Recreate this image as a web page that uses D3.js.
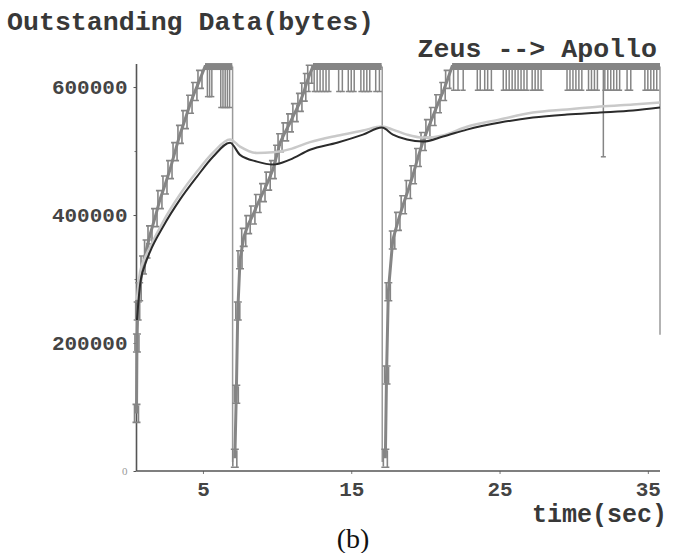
<!DOCTYPE html>
<html>
<head>
<meta charset="utf-8">
<script src="https://cdn.jsdelivr.net/npm/d3@7"></script>
<style>
  html, body { margin: 0; padding: 0; background: #fff; }
  svg { display: block; }
</style>
</head>
<body>
<svg id="chart" width="675" height="553"></svg>
<script>
// ---- data (time in s, outstanding data in bytes) ----
const ramp1T = [0.52, 0.55, 0.6, 0.7, 0.96, 1.2, 1.43, 1.77, 2.1, 2.44, 2.78, 3.12, 3.45, 3.79, 4.13, 4.46, 4.8, 5.14, 6.98];
const ramp1V = [90000, 200000, 250000, 280000, 322000, 347000, 369000, 396000, 424000, 447000, 471000, 499000, 526000, 549000, 573000, 593000, 612000, 632000, 632000];
const ramp2T = [7.15, 7.25, 7.35, 7.5, 7.75, 8.05, 8.37, 8.7, 9.05, 9.4, 9.72, 10.0, 10.2, 10.55, 10.87, 11.2, 11.54, 11.8, 12.0, 12.2, 12.42, 17.05];
const ramp2V = [20000, 120000, 250000, 330000, 365000, 385000, 400000, 418000, 435000, 453000, 471000, 495000, 513000, 530000, 544000, 560000, 576000, 592000, 607000, 620000, 632000, 632000];
const ramp3T = [17.3, 17.38, 17.5, 17.8, 18.15, 18.5, 18.85, 19.17, 19.5, 19.84, 20.17, 20.5, 20.85, 21.2, 21.5, 21.8, 35.82];
const ramp3V = [20000, 150000, 280000, 361000, 390000, 416000, 440000, 463000, 490000, 515000, 535000, 554000, 574000, 593000, 612000, 632000, 632000];
const capV = 632000;
const dropT = [7.0, 17.09, 35.82];
const dropV = [14000, 14000, 213000];
const dipT = [5.3, 5.45, 5.6, 6.2, 6.35, 6.5, 6.65, 6.8,
  12.5, 12.7, 12.9, 13.1, 13.3, 13.5, 14.15, 14.4, 14.8, 15.0, 15.2, 15.65, 15.85, 16.05, 16.25, 16.65, 16.9,
  21.9, 22.2, 22.55, 23.5, 23.7, 24.0, 24.2, 24.45, 25.25, 25.45, 25.65, 25.85, 26.05, 26.25, 26.45, 26.65, 26.85,
  27.2, 27.4, 27.6, 27.8, 29.55, 29.75, 29.95, 30.15, 30.35, 30.55, 31.0, 31.2, 31.4, 31.6, 32.0, 32.1, 32.3, 32.5,
  32.7, 32.9, 33.1, 33.6, 33.85, 34.8, 35.0, 35.2, 35.4, 35.6];
const dipV = [585000, 585000, 585000, 568000, 568000, 568000, 568000, 568000,
  593000, 593000, 593000, 593000, 593000, 593000, 593000, 593000, 593000, 593000, 593000, 593000, 593000, 593000, 593000, 593000, 593000,
  595000, 595000, 595000, 595000, 595000, 595000, 595000, 595000, 595000, 595000, 595000, 595000, 595000, 595000, 595000, 595000, 595000,
  595000, 595000, 595000, 595000, 595000, 595000, 595000, 595000, 595000, 595000, 595000, 595000, 595000, 595000, 491000, 595000, 595000, 595000,
  595000, 595000, 595000, 595000, 595000, 595000, 595000, 595000, 595000, 595000];

const avgT = [0.55, 0.76, 1.09, 1.43, 2.31, 3.45, 4.60, 5.68, 6.83, 7.50, 8.64, 9.72, 10.87, 12.22, 14.04, 15.79, 17.07, 17.81, 18.76, 19.84, 21.19, 22.80, 25.03, 27.25, 29.54, 31.77, 34.0, 35.82];
const darkV = [236000, 291000, 322000, 342600, 381700, 424000, 460000, 491000, 513000, 494000, 483500, 478800, 486600, 502000, 513000, 525700, 536700, 525700, 517900, 514700, 522600, 533500, 544500, 552300, 557000, 560100, 563300, 568000];
const lightV = [267500, 311000, 333000, 350000, 389500, 432000, 468000, 497500, 518000, 507000, 497000, 498000, 503000, 514000, 524000, 532000, 538200, 533500, 525700, 521000, 524500, 538000, 549300, 560100, 565000, 569500, 572900, 575800];

const xTicks = [5, 15, 25, 35];
const yTicks = [0, 200000, 400000, 600000];
const yMinorTicks = [100000, 300000, 500000];
const titleText = "Outstanding Data(bytes)";
const flowText = "Zeus --> Apollo";
const xLabelText = "time(sec)";
const captionText = "(b)";

// ---- drawing ----
const svg = d3.select("#chart");
const mono = "'Liberation Mono', 'DejaVu Sans Mono', monospace";

const x = d3.scaleLinear().domain([0.52, 35.82]).range([136.5, 660]);
const y = d3.scaleLinear().domain([0, 636000]).range([471, 64]);

const sawColor = "#858585";

// axes
const yAxis = svg.append("g").attr("transform", `translate(${x(0.52)},0)`)
  .call(d3.axisLeft(y).tickValues(yTicks).tickSize(3).tickPadding(6).tickFormat(d3.format("d")));
yAxis.select(".domain").remove();
yAxis.selectAll("line").attr("stroke", "#555");
yAxis.selectAll("text").attr("font-family", mono).attr("font-weight", "bold")
  .attr("font-size", 21).attr("fill", "#444");
yAxis.selectAll(".tick").filter(d => d === 0).select("text")
  .attr("font-size", 11).attr("font-weight", "normal").attr("fill", "#999").attr("font-family", "'Liberation Serif', serif");
const yMinor = svg.append("g").attr("transform", `translate(${x(0.52)},0)`)
  .call(d3.axisLeft(y).tickValues(yMinorTicks).tickSize(2).tickFormat(""));
yMinor.select(".domain").remove();
yMinor.selectAll("line").attr("stroke", "#777");

const xAxis = svg.append("g").attr("transform", `translate(0,${y(0)})`)
  .call(d3.axisBottom(x).tickValues(xTicks).tickSize(3).tickPadding(7).tickFormat(d3.format("d")));
xAxis.select(".domain").remove();
xAxis.selectAll("line").attr("stroke", "#777");
xAxis.selectAll("text").attr("font-family", mono).attr("font-weight", "bold")
  .attr("font-size", 21).attr("fill", "#444");

// axis lines
svg.append("line").attr("x1", x(0.52)).attr("x2", x(0.52)).attr("y1", y(636000)).attr("y2", y(0))
  .attr("stroke", "#555").attr("stroke-width", 1.6);
svg.append("line").attr("x1", x(0.52)).attr("x2", x(35.82)).attr("y1", y(0)).attr("y2", y(0))
  .attr("stroke", "#555").attr("stroke-width", 1.6);

// drops
svg.append("g").selectAll("line").data(dropT).join("line")
  .attr("x1", d => x(d)).attr("x2", d => x(d))
  .attr("y1", y(capV)).attr("y2", (d, i) => y(dropV[i]))
  .attr("stroke", "#9a9a9a").attr("stroke-width", 1.5);

// dips from the cap
const dipG = svg.append("g").attr("stroke", sawColor).attr("stroke-width", 1.5);
dipT.forEach((t, i) => {
  dipG.append("line").attr("x1", x(t)).attr("x2", x(t)).attr("y1", y(capV)).attr("y2", y(dipV[i]));
  dipG.append("line").attr("x1", x(t) - 2.5).attr("x2", x(t) + 2.5).attr("y1", y(dipV[i])).attr("y2", y(dipV[i]));
});

// ramps
const ramps = [[ramp1T, ramp1V], [ramp2T, ramp2V], [ramp3T, ramp3V]];
const line = d3.line().x(d => x(d[0])).y(d => y(d[1]));
ramps.forEach(([T, V]) => {
  const pts = T.map((t, i) => [t, V[i]]);
  svg.append("path").attr("d", line(pts)).attr("fill", "none")
    .attr("stroke", sawColor).attr("stroke-width", 3);
  // cap band
  const cap = pts.filter(p => p[1] === capV);
  if (cap.length >= 2) {
    svg.append("line").attr("x1", x(cap[0][0])).attr("x2", x(cap[cap.length - 1][0]))
      .attr("y1", y(capV)).attr("y2", y(capV)).attr("stroke", sawColor).attr("stroke-width", 7);
  }
  // I-bar markers on ramp points
  const mg = svg.append("g").attr("stroke", sawColor).attr("stroke-width", 1.6).attr("fill", "none");
  pts.filter(p => p[1] < capV).forEach(p => {
    const cx = x(p[0]), cy = y(p[1]);
    mg.append("path").attr("d",
      `M${cx - 2},${cy - 9}V${cy + 8}M${cx + 2},${cy - 8}V${cy + 9}M${cx - 4},${cy - 9}H${cx + 4}M${cx - 4},${cy + 9}H${cx + 4}`);
  });
});

// average lines
const smooth = d3.line().x(d => x(d[0])).y(d => y(d[1])).curve(d3.curveMonotoneX);
svg.append("path").attr("d", smooth(avgT.map((t, i) => [t, lightV[i]])))
  .attr("fill", "none").attr("stroke", "#c9c9c9").attr("stroke-width", 2.5);
svg.append("path").attr("d", smooth(avgT.map((t, i) => [t, darkV[i]])))
  .attr("fill", "none").attr("stroke", "#2b2b2b").attr("stroke-width", 2);

// texts
svg.append("text").attr("x", 7).attr("y", 30).text(titleText)
  .attr("font-family", mono).attr("font-weight", "bold").attr("font-size", 26.6).attr("fill", "#383838");
svg.append("text").attr("x", 657).attr("y", 57).attr("text-anchor", "end").text(flowText)
  .attr("font-family", mono).attr("font-weight", "bold").attr("font-size", 26.6).attr("fill", "#383838");
svg.append("text").attr("x", 667).attr("y", 522).attr("text-anchor", "end").text(xLabelText)
  .attr("font-family", mono).attr("font-weight", "bold").attr("font-size", 25).attr("fill", "#383838");
svg.append("text").attr("x", 353).attr("y", 548).attr("text-anchor", "middle").text(captionText)
  .attr("font-family", "'Liberation Serif', 'Times New Roman', serif").attr("font-size", 28).attr("fill", "#111");
</script>
</body>
</html>
